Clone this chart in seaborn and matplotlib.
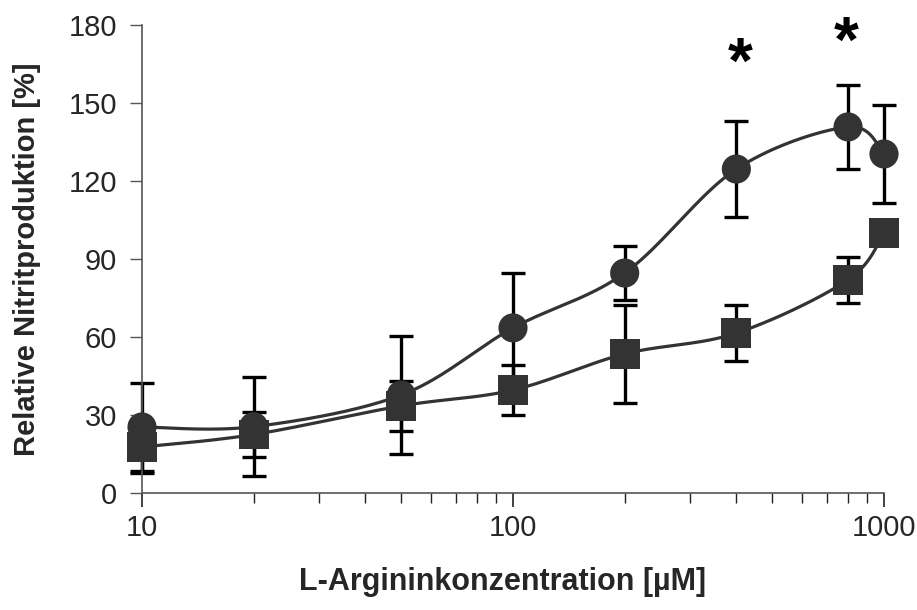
import numpy as np
import pandas as pd
import matplotlib
matplotlib.use("Agg")
import matplotlib.pyplot as plt
import seaborn as sns
from matplotlib.ticker import FixedLocator, LogLocator, NullFormatter

# ---- data ----
conc = [10, 20, 50, 100, 200, 400, 800, 1000]
circle_mean = [25.4, 25.5, 37.7, 63.5, 84.6, 124.6, 140.8, 130.4]
circle_sd = [16.9, 19.0, 22.7, 21.1, 10.4, 18.5, 16.2, 18.9]
square_mean = [17.7, 22.5, 33.5, 39.6, 53.5, 61.5, 82.0, 100.0]
square_sd = [10.0, 8.7, 9.7, 9.6, 18.9, 10.8, 8.8, 0.0]
star_x = [410, 790]
star_y = [164.5, 172.5]
y_ticks = [0, 30, 60, 90, 120, 150, 180]
x_ticks = [10, 100, 1000]
x_tick_labels = ["10", "100", "1000"]
x_label = "L-Argininkonzentration [µM]"
y_label = "Relative Nitritproduktion [%]"

DARK = "#333333"


def catmull_rom(xs, ys, n=40):
    """Excel-like smoothed line through points (in log-x space)."""
    lx = np.log10(np.asarray(xs, float))
    yy = np.asarray(ys, float)
    P = np.column_stack([lx, yy])
    P = np.vstack([P[0], P, P[-1]])
    out = []
    for i in range(1, len(P) - 2):
        p0, p1, p2, p3 = P[i - 1], P[i], P[i + 1], P[i + 2]
        c1 = p1 + (p2 - p0) / 6.0
        c2 = p2 - (p3 - p1) / 6.0
        t = np.linspace(0, 1, n)[:, None]
        seg = ((1 - t) ** 3) * p1 + 3 * ((1 - t) ** 2) * t * c1 + 3 * (1 - t) * t ** 2 * c2 + t ** 3 * p2
        out.append(seg if i == 1 else seg[1:])
    S = np.vstack(out)
    return 10 ** S[:, 0], S[:, 1]


sns.set_theme(style="white")
plt.rcParams["font.family"] = ["Liberation Sans", "DejaVu Sans"]

fig = plt.figure(figsize=(9.17, 6.10), dpi=100)
ax = fig.add_axes([142 / 917, 1 - 493 / 610, (884 - 142) / 917, (493 - 25) / 610])

curves = []
for name, m in [("circle", circle_mean), ("square", square_mean)]:
    sx, sy = catmull_rom(conc, m)
    curves.append(pd.DataFrame({"x": sx, "y": sy, "series": name}))
curve_df = pd.concat(curves, ignore_index=True)

circ_df = pd.DataFrame({"x": conc, "y": circle_mean, "sd": circle_sd})
sq_df = pd.DataFrame({"x": conc, "y": square_mean, "sd": square_sd})

# error bars
for d in [circ_df, sq_df]:
    d = d[d.sd > 0]
    eb = ax.errorbar(d.x, d.y, yerr=d.sd, fmt="none", ecolor="black", elinewidth=2.4,
                     capsize=8.6, capthick=2.4, zorder=2)
    for art in eb.lines[1] + eb.lines[2]:
        art.set_clip_on(False)

sns.lineplot(data=curve_df, x="x", y="y", hue="series", units="series", estimator=None,
             sort=False, palette={"circle": DARK, "square": DARK}, linewidth=2.3,
             legend=False, ax=ax, zorder=3)
sns.scatterplot(data=circ_df, x="x", y="y", marker="o", color=DARK, s=440,
                edgecolor="none", linewidth=0, legend=False, ax=ax, zorder=4, clip_on=False)
sns.scatterplot(data=sq_df, x="x", y="y", marker="s", color=DARK, s=460,
                edgecolor="none", linewidth=0, legend=False, ax=ax, zorder=4, clip_on=False)

for xs, ys in zip(star_x, star_y):
    ax.text(xs, ys, "*", ha="center", va="center", fontsize=46, fontweight="bold", color="black")

ax.set_xscale("log")
ax.set_xlim(10, 1000)
ax.set_ylim(0, 180)
ax.xaxis.set_major_locator(FixedLocator(x_ticks))
ax.set_xticklabels(x_tick_labels)
ax.xaxis.set_minor_locator(LogLocator(base=10, subs=np.arange(2, 10)))
ax.xaxis.set_minor_formatter(NullFormatter())
ax.set_yticks(y_ticks)

for s in ["top", "right"]:
    ax.spines[s].set_visible(False)
for s in ["left", "bottom"]:
    ax.spines[s].set_color("#555555")
    ax.spines[s].set_linewidth(1.2)

ax.tick_params(axis="y", which="major", direction="out", length=9, width=1, color="#555555",
               labelsize=21, pad=9, left=True)
ax.tick_params(axis="x", which="major", direction="out", length=10, width=1.2, color="#222222",
               labelsize=21, pad=5, bottom=True)
ax.tick_params(axis="x", which="minor", direction="out", length=7, width=1, color="#222222", bottom=True)

ax.set_xlabel(x_label, fontsize=22, fontweight="bold", labelpad=18)
ax.set_ylabel(y_label, fontsize=21, fontweight="bold", labelpad=20)
ax.xaxis.label.set_x(0.486)

fig.savefig("out.png", dpi=100)
